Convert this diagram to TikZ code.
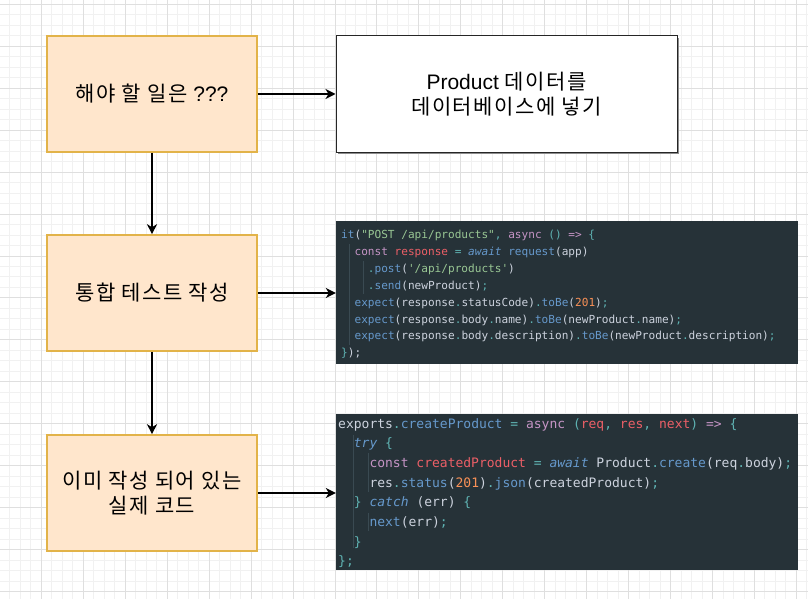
\documentclass[tikz,border=0pt]{standalone}
\usepackage{fontspec}
\setmainfont{Liberation Sans}
\setmonofont{DejaVu Sans Mono}
\newfontfamily\krfont{Noto Sans CJK KR}[LetterSpace=7]
\usetikzlibrary{arrows.meta}
\definecolor{gminorc}{HTML}{F1F1F1}
\definecolor{gmajorc}{HTML}{DFDFDF}
\definecolor{ofill}{HTML}{FFE6CC}
\definecolor{odraw}{HTML}{E2B349}
\definecolor{codebgc}{HTML}{263238}
\definecolor{codefg}{HTML}{CDD3DE}
\definecolor{cpurple}{HTML}{C594C5}
\definecolor{cblue}{HTML}{6699CC}
\definecolor{cgreen}{HTML}{99C794}
\definecolor{cred}{HTML}{EC5F67}
\definecolor{corange}{HTML}{F99157}
\definecolor{ccyan}{HTML}{5FB3B3}
\definecolor{cguide}{HTML}{3A4A52}
\newcommand\cKw[1]{\textcolor{cpurple}{#1}}
\newcommand\cFn[1]{\textcolor{cblue}{#1}}
\newcommand\cSt[1]{\textcolor{cgreen}{#1}}
\newcommand\cVr[1]{\textcolor{cred}{#1}}
\newcommand\cNm[1]{\textcolor{corange}{#1}}
\newcommand\cPn[1]{\textcolor{ccyan}{#1}}
\newcommand\cIt[1]{\textcolor{cblue}{\itshape #1}}
\tikzset{
  gminor/.style={draw=gminorc, line width=1pt},
  gmajor/.style={draw=gmajorc, line width=1pt},
  task/.style={draw=odraw, fill=ofill, line width=1.6pt, minimum width=210pt,
    minimum height=116pt, inner sep=0pt, align=center,
    font=\fontsize{21}{25.5}\selectfont},
  goal/.style={draw=black!85, fill=white, line width=1pt, minimum width=341pt,
    minimum height=116pt, inner sep=0pt, align=center,
    font=\fontsize{21}{24.5}\selectfont},
  codebox/.style={fill=codebgc, draw=none, inner sep=0pt},
  codeA/.style={anchor=base west, inner sep=0pt, text=codefg,
    font=\ttfamily\fontsize{11.1}{13}\selectfont},
  codeB/.style={anchor=base west, inner sep=0pt, text=codefg,
    font=\ttfamily\fontsize{13}{15}\selectfont},
  guide/.style={draw=cguide, line width=0.8pt},
  flow/.style={draw=black, line width=1.6pt,
    -{Stealth[length=10pt, width=10pt, inset=3pt]}},
}
\begin{document}
\begin{tikzpicture}[x=1pt, y=-1pt]
\useasboundingbox (0,0) rectangle (808,599);
\fill[white] (0,0) rectangle (808,599);
% grid
\foreach \i in {0,...,78} {\draw[gminor] ({\i*10.4875-0.6},0) -- ++(0,599);}
\foreach \j in {0,...,57} {\draw[gminor] (0,{\j*10.4875+4.3}) -- ++(808,0);}
\foreach \i in {0,...,19} {\draw[gmajor] ({\i*41.95-0.6},0) -- ++(0,599);}
\foreach \j in {0,...,14} {\draw[gmajor] (0,{\j*41.95+4.3}) -- ++(808,0);}

% left column
\node[task] (b1) at (152,94) {{\krfont 해야 할 일은} ???};
\node[task] (b2) at (152,293) {\krfont 통합 테스트 작성};
\node[task] (b3) at (152,493) {\krfont 이미 작성 되어 있는\\\krfont 실제 코드};

% goal box with shadow
\fill[black!45] (338,38) rectangle (679,154);
\node[goal] (w) at (506.5,94) {Product {\krfont 데이터를}\\\krfont 데이터베이스에 넣기};

% code block 1
\node[codebox, minimum width=461.5pt, minimum height=143.5pt] (c1) at (566.75,292.25) {};
\draw[guide] (349.7,244) -- (349.7,345);
\draw[guide] (363,261) -- (363,294);
\node[codeA] (c1l1) at (341,238.5) {\cFn{it}(\cSt{"POST /api/products"}\cPn{,} \cKw{async} \cPn{()} \cKw{=>} \cPn{\{}};
\node[codeA] (c1l2) at (354.4,255.4) {\cKw{const} \cVr{response} \cPn{=} \cIt{await} \cFn{request}(app)};
\node[codeA] (c1l3) at (367.7,272.3) {\cPn{.}\cFn{post}(\cSt{'/api/products'})};
\node[codeA] (c1l4) at (367.7,289.2) {\cPn{.}\cFn{send}(newProduct)\cPn{;}};
\node[codeA] (c1l5) at (354.4,306.1) {\cFn{expect}(response\cPn{.}statusCode)\cPn{.}\cFn{toBe}(\cNm{201})\cPn{;}};
\node[codeA] (c1l6) at (354.4,323.0) {\cFn{expect}(response\cPn{.}body\cPn{.}name)\cPn{.}\cFn{toBe}(newProduct\cPn{.}name)\cPn{;}};
\node[codeA] (c1l7) at (354.4,339.9) {\cFn{expect}(response\cPn{.}body\cPn{.}description)\cPn{.}\cFn{toBe}(newProduct\cPn{.}description)\cPn{;}};
\node[codeA] (c1l8) at (341,356.8) {\cPn{\}});};

% code block 2
\node[codebox, minimum width=461.5pt, minimum height=156pt] (c2) at (566.75,492) {};
\draw[guide] (353.3,435) -- (353.3,548);
\draw[guide] (368.5,453) -- (368.5,492);
\draw[guide] (368.5,513) -- (368.5,531);
\node[codeB] (c2l1) at (338,428) {exports\cPn{.}\cFn{createProduct} \cPn{=} \cKw{async} \cPn{(}\cVr{req}\cPn{,} \cVr{res}\cPn{,} \cVr{next}\cPn{)} \cKw{=>} \cPn{\{}};
\node[codeB] (c2l2) at (353.7,447.7) {\cIt{try} \cPn{\{}};
\node[codeB] (c2l3) at (369.3,467.3) {\cKw{const} \cVr{createdProduct} \cPn{=} \cIt{await} Product\cPn{.}\cFn{create}(req\cPn{.}body)\cPn{;}};
\node[codeB] (c2l4) at (369.3,487.0) {res\cPn{.}\cFn{status}(\cNm{201})\cPn{.}\cFn{json}(createdProduct)\cPn{;}};
\node[codeB] (c2l5) at (353.7,506.7) {\cPn{\}} \cIt{catch} (err) \cPn{\{}};
\node[codeB] (c2l6) at (369.3,526.3) {\cFn{next}(err)\cPn{;}};
\node[codeB] (c2l7) at (353.7,546.0) {\cPn{\}}};
\node[codeB] (c2l8) at (338,565.7) {\cPn{\};}};

% connectors
\draw[flow] (b1.south) -- (b2.north);
\draw[flow] (b2.south) -- (b3.north);
\draw[flow] (b1.east) -- (w.west);
\draw[flow] (b2.east) -- (b2.east -| c1.west);
\draw[flow] (b3.east) -- (b3.east -| c2.west);
\end{tikzpicture}
\end{document}
